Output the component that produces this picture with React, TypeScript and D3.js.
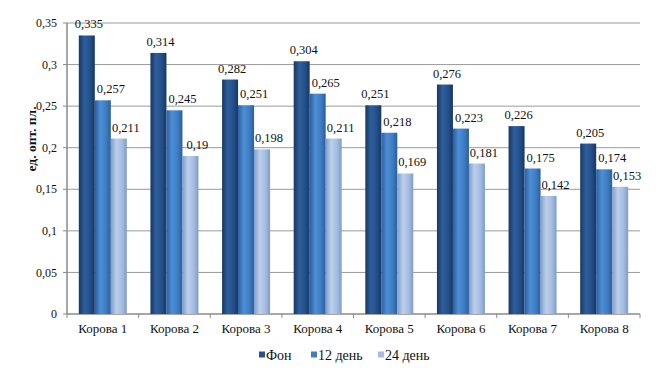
import * as d3 from 'd3';

const categories = ['Корова 1', 'Корова 2', 'Корова 3', 'Корова 4', 'Корова 5', 'Корова 6', 'Корова 7', 'Корова 8'];
const seriesNames = ['Фон', '12 день', '24 день'];
const fon = [0.335, 0.314, 0.282, 0.304, 0.251, 0.276, 0.226, 0.205];
const day12 = [0.257, 0.245, 0.251, 0.265, 0.218, 0.223, 0.175, 0.174];
const day24 = [0.211, 0.19, 0.198, 0.211, 0.169, 0.181, 0.142, 0.153];
const yTicks = [0, 0.05, 0.1, 0.15, 0.2, 0.25, 0.3, 0.35];

const W = 659;
const H = 375;
const left = 67, right = 640, top = 23, bottom = 314;
const ff = { fontFamily: "'Liberation Serif'" };

// edge / mid / light shades for each series
const shades = [
  ['#173763', '#2e5f9c', '#24508a'],
  ['#2a5e9e', '#4d8fd6', '#3f7dc3'],
  ['#7f9cc8', '#bccfeb', '#a5bde2'],
];
const legendColors = ['#26538f', '#3f7ec5', '#a4bde0'];
const labelShift = [2, 8, 7];

const fmt = (v: number) => String(v).replace('.', ',');

export default function App() {
  const series = [fon, day12, day24];
  const x = d3.scaleBand<string>().domain(categories).range([left, right]).paddingInner(0).paddingOuter(0);
  const inner = d3.scaleBand<number>().domain([0, 1, 2]).range([0, x.bandwidth() * 0.67]);
  const offs = (x.bandwidth() - x.bandwidth() * 0.67) / 2;
  const y = d3.scaleLinear().domain([0, 0.35]).range([bottom, top]);

  const legendX = [259, 311, 378];

  return (
    <svg width={W} height={H} style={{ display: 'block', position: 'absolute', left: 0, top: 0, background: '#fff' }}>
      <defs>
        {shades.map((s, i) => (
          <linearGradient key={i} id={`g${i}`} x1="0" x2="1" y1="0" y2="0">
            <stop offset="0" stopColor={s[0]} />
            <stop offset="0.35" stopColor={s[1]} />
            <stop offset="0.7" stopColor={s[2]} />
            <stop offset="1" stopColor={s[0]} />
          </linearGradient>
        ))}
      </defs>
      {yTicks.map(t => (
        <g key={t}>
          {t > 0 && <line x1={left} x2={right} y1={y(t)} y2={y(t)} stroke="#9a9a9a" strokeWidth={1} />}
          <line x1={left - 4} x2={left} y1={y(t)} y2={y(t)} stroke="#8a8a8a" />
          <text x={left - 10} y={y(t)} dy="0.35em" textAnchor="end" style={ff} fontSize={12} fill="#111">
            {fmt(t)}
          </text>
        </g>
      ))}
      <line x1={left} x2={left} y1={top} y2={bottom} stroke="#8a8a8a" strokeWidth={1.5} />
      <line x1={left} x2={right} y1={bottom} y2={bottom} stroke="#8a8a8a" strokeWidth={1.5} />
      {categories.map(c => (
        <line key={c} x1={(x(c) as number) + x.bandwidth()} x2={(x(c) as number) + x.bandwidth()} y1={bottom} y2={bottom + 4} stroke="#8a8a8a" />
      ))}
      <line x1={left} x2={left} y1={bottom} y2={bottom + 4} stroke="#8a8a8a" />
      {categories.map((c, ci) => (
        <g key={c}>
          {series.map((s, si) => {
            const bx = (x(c) as number) + offs + (inner(si) as number);
            const bw = inner.bandwidth();
            return (
              <g key={si}>
                <rect x={bx} y={y(s[ci])} width={bw} height={bottom - y(s[ci])} fill={`url(#g${si})`} />
                <text x={bx + bw / 2 + labelShift[si]} y={y(s[ci]) - 7} textAnchor="middle" style={ff} fontSize={12.5} fill="#111">
                  {fmt(s[ci])}
                </text>
              </g>
            );
          })}
          <text x={(x(c) as number) + x.bandwidth() / 2} y={333} textAnchor="middle" style={ff} fontSize={13} fill="#111">
            {c}
          </text>
        </g>
      ))}
      <text transform={`translate(36,139) rotate(-90)`} textAnchor="middle" style={ff} fontSize={13.5} fontWeight="bold" fill="#111">
        ед. опт. пл.
      </text>
      {seriesNames.map((n, i) => (
        <g key={n}>
          <rect x={legendX[i]} y={351.5} width={6} height={6} fill={legendColors[i]} />
          <text x={legendX[i] + 7} y={359.5} style={ff} fontSize={14} fill="#111">
            {n}
          </text>
        </g>
      ))}
    </svg>
  );
}
